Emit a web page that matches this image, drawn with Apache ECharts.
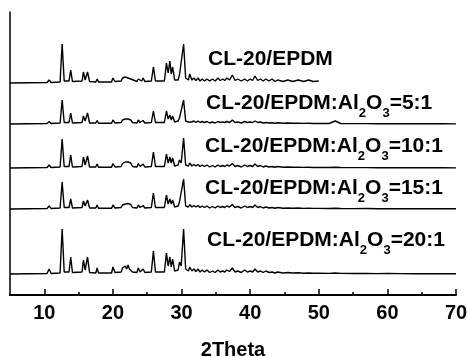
<!DOCTYPE html>
<html><head><meta charset="utf-8">
<script src="https://cdn.jsdelivr.net/npm/echarts@6/dist/echarts.min.js"></script>
<style>html,body{margin:0;padding:0;background:#fff}#c{width:468px;height:357px}</style>
</head><body><div id="c"></div>
<script>
// 2Theta sample positions shared by all patterns
const twoTheta = [
  5, 10.4, 10.7, 11.0,
  12.3, 12.6, 12.9, 13.6, 13.85, 14.1,
  15.5, 15.7, 15.95, 16.3, 16.6, 17.5, 17.7, 17.9,
  19.8, 20.0, 20.3, 21.2, 21.4, 21.6, 21.8, 22.0, 22.2, 22.4, 22.6, 22.85, 23.5, 23.7, 23.95, 24.2, 24.4, 24.65,
  25.6, 25.9, 26.2, 27.5, 27.8, 28.05, 28.3, 28.5, 28.7, 29.0, 29.5, 29.7, 29.95, 30.3, 30.6,
  31.0, 31.2, 31.5, 31.8, 32.1, 32.4, 32.7, 33.0, 33.35, 33.7, 34.1, 34.5, 34.9, 35.3, 35.65, 36.0, 36.3, 36.6, 37.0, 37.4, 37.8,
  38.2, 38.7, 39.2, 39.6, 40.0, 40.35, 40.7, 41.1, 41.5, 41.9, 42.3, 42.75, 43.2, 43.6, 44.0, 44.8,
  45.5, 46.2, 47.0, 47.8, 48.5, 49.2, 50.0,
  51.5, 52.4, 53.2, 55, 57, 58.5, 60, 62, 64, 66, 68, 70
];
const xTicks = [10, 20, 30, 40, 50, 60, 70];
const xMinorTicks = [15, 25, 35, 45, 55, 65];

const sampleNames = ['CL-20/EPDM', 'CL-20/EPDM:Al2O3=5:1', 'CL-20/EPDM:Al2O3=10:1', 'CL-20/EPDM:Al2O3=15:1', 'CL-20/EPDM:Al2O3=20:1'];
const stackOffsets = [212, 171, 127, 86, 21];

const intensityEPDM = [
  0, 0.5, 3, 0.5,
  1, 39, 2, 2, 13, 1.5,
  2, 11, 3, 11, 1.5, 1, 4, 1,
  1, 5, 1.5, 2, 5, 3.5, 6, 4, 5, 3.5, 4, 2, 1.5, 4, 2, 2, 5, 1.5,
  2, 16, 2, 2, 20, 10, 22, 9, 16, 3, 3, 8, 6, 39, 5,
  3, 9, 3, 5, 2.5, 5, 2, 4, 2, 4, 2, 4, 2, 5, 2.5, 4, 2.5, 5, 3, 8, 2.5,
  4, 2, 4, 2, 4, 2.5, 7, 2.5, 4, 2, 4, 2, 4, 1.5, 3, 1.5,
  3, 1.5, 3, 1.5, 3, 1.5, 2
];
const intensity5to1 = [
  0, 0.5, 2.5, 0.5,
  1, 24, 1.5, 1.5, 11, 1,
  1.5, 8, 3, 11, 1, 1, 3.5, 0.8,
  0.8, 4, 1, 1.5, 4, 3, 5, 3.5, 5, 3, 4, 1.5, 1, 4, 1.5, 1.5, 3.5, 1,
  1.5, 13, 1.5, 1.5, 13, 5, 9, 4, 8, 2, 3, 6, 4, 24, 3,
  2, 4, 2, 3, 1.5, 3, 1.5, 2.5, 1.5, 2.5, 1, 2, 1, 2.5, 1.5, 2, 1.5, 2.5, 1.5, 4, 1.5,
  2, 1, 2.5, 1.5, 2, 1.5, 3, 1.5, 2, 1, 1.5, 1, 1.2, 0.8, 1.2, 0.8,
  1, 0.7, 0.9, 0.6, 0.8, 0.5, 0.6,
  0.5, 3, 0.5, 0.4, 0.4, 0.3, 0.4, 0.3, 0.2, 0.2, 0.2, 0.1
];
const intensity10to1 = [
  0, 0.5, 3, 0.5,
  1, 29, 1.5, 1.5, 13, 1,
  1.5, 11, 3, 12, 1, 1, 4, 0.8,
  0.8, 4.5, 1, 1.5, 4.5, 3, 6, 4, 6, 4, 5, 1.5, 1, 4.5, 1.5, 1.5, 4, 1,
  1.5, 16, 1.5, 1.5, 14, 5, 11, 5, 10, 2, 3, 8, 5, 30, 3,
  2, 5, 2, 3.5, 2, 3.5, 1.5, 3, 1.5, 3, 1, 2.5, 1, 3, 1.5, 2.5, 1.5, 3, 2, 4.5, 1.5,
  2.5, 1, 3, 1.5, 2.5, 1.5, 4, 1.5, 2.5, 1, 2, 1, 1.5, 0.8, 1.5, 0.8,
  1, 0.7, 0.9, 0.6, 0.8, 0.5, 0.6,
  0.5, 0.7, 0.5, 0.4, 0.4, 0.3, 0.4, 0.3, 0.2, 0.2, 0.2, 0.1
];
const intensity15to1 = [
  0, 0.5, 3, 0.5,
  1, 27, 1.5, 1.5, 10, 1,
  1.5, 8, 3, 9, 1, 1, 4, 0.8,
  0.8, 4, 1, 1.5, 4, 3, 5, 3.5, 5.5, 3.5, 4.5, 1.5, 1, 4, 1.5, 1.5, 3.5, 1,
  1.5, 16, 1.5, 1.5, 14, 5, 10, 5, 9, 2, 3, 7, 5, 30, 3,
  2, 4.5, 2, 3.5, 2, 3.5, 1.5, 3, 1.5, 3, 1, 2.5, 1, 3, 1.5, 2.5, 1.5, 3, 2, 4.5, 1.5,
  2.5, 1, 3, 1.5, 2.5, 1.5, 4, 1.5, 2.5, 1, 2, 1, 1.5, 0.8, 1.5, 0.8,
  1, 0.8, 1, 0.6, 0.8, 0.6, 0.6,
  0.5, 0.8, 0.5, 0.4, 0.5, 0.3, 0.4, 0.3, 0.3, 0.2, 0.2, 0.2
];
const intensity20to1 = [
  0, 0.5, 5, 0.5,
  1, 45, 2, 2, 17, 1.5,
  2, 14, 4, 17, 1.5, 1, 6, 1,
  1, 7, 1.5, 2, 6, 4, 8, 5, 9, 5, 7, 2, 1.5, 6, 2, 2, 5, 1.5,
  2, 23, 2, 2, 21, 8, 17, 7, 15, 3, 4, 12, 8, 45, 5,
  3, 7, 3, 5, 2.5, 5, 2, 4, 2, 4, 1.5, 3, 1.5, 4, 2, 3, 2, 4, 2.5, 6, 2,
  3, 1.5, 4, 2, 3, 2, 5, 2, 3, 1.5, 3, 1.5, 2, 1, 2, 1,
  1.5, 1, 1.2, 0.8, 1, 0.7, 0.8,
  0.6, 1, 0.6, 0.5, 0.6, 0.4, 0.5, 0.4, 0.3, 0.3, 0.2, 0.2
];
const intensities = [intensityEPDM, intensity5to1, intensity10to1, intensity15to1, intensity20to1];

const labelTexts = [
  '{a|CL-20/EPDM}',
  '{a|CL-20/EPDM:Al}{s|2}{a|O}{s|3}{a|=5:1}',
  '{a|CL-20/EPDM:Al}{s|2}{a|O}{s|3}{a|=10:1}',
  '{a|CL-20/EPDM:Al}{s|2}{a|O}{s|3}{a|=15:1}',
  '{a|CL-20/EPDM:Al}{s|2}{a|O}{s|3}{a|=20:1}'
];
const labelPos = [[208, 59], [206, 103], [205, 146], [205, 188], [207, 240]];

const FONT = '"Liberation Sans", Arial, Helvetica, sans-serif';
const chart = echarts.init(document.getElementById('c'), null, {renderer: 'canvas'});

const series = intensities.map((arr, k) => ({
  name: sampleNames[k],
  type: 'line',
  xAxisIndex: 0,
  showSymbol: false,
  symbol: 'none',
  silent: true,
  lineStyle: {color: '#000', width: 1.4},
  data: arr.map((v, i) => [twoTheta[i], v + stackOffsets[k]])
}));

chart.setOption({
  animation: false,
  backgroundColor: '#fff',
  grid: {left: 10, right: 12, top: 12, bottom: 62, containLabel: false, outerBoundsMode: 'none'},
  xAxis: [{
    type: 'value', min: 5, max: 70,
    name: '2Theta', nameLocation: 'middle', nameGap: 45,
    nameTextStyle: {fontFamily: FONT, fontWeight: 'bold', fontSize: 20, color: '#000'},
    axisLine: {show: true, onZero: false, lineStyle: {color: '#000', width: 2}},
    axisTick: {show: true, inside: true, length: 6, lineStyle: {color: '#000', width: 1.5}, customValues: xTicks},
    axisLabel: {fontFamily: FONT, fontWeight: 'bold', fontSize: 20, color: '#000', margin: 8, customValues: xTicks},
    splitLine: {show: false}
  }, {
    type: 'value', min: 5, max: 70, position: 'bottom',
    axisLine: {show: false},
    axisTick: {show: true, inside: true, length: 3, lineStyle: {color: '#000', width: 1.5}, customValues: xMinorTicks},
    axisLabel: {show: false},
    splitLine: {show: false}
  }],
  yAxis: {
    type: 'value', min: 0, max: 283,
    axisLine: {show: true, onZero: false, lineStyle: {color: '#000', width: 1.5}},
    axisTick: {show: false}, axisLabel: {show: false}, splitLine: {show: false}
  },
  series: series,
  graphic: labelTexts.map((t, k) => ({
    type: 'text', x: labelPos[k][0], y: labelPos[k][1], silent: true,
    style: {
      text: t, align: 'left', verticalAlign: 'middle',
      rich: {
        a: {fontFamily: FONT, fontWeight: 'bold', fontSize: 21, fill: '#000', lineHeight: 24, verticalAlign: 'middle'},
        s: {fontFamily: FONT, fontWeight: 'bold', fontSize: 13, fill: '#000', lineHeight: 34, verticalAlign: 'bottom'}
      }
    }
  }))
});
</script></body></html>
